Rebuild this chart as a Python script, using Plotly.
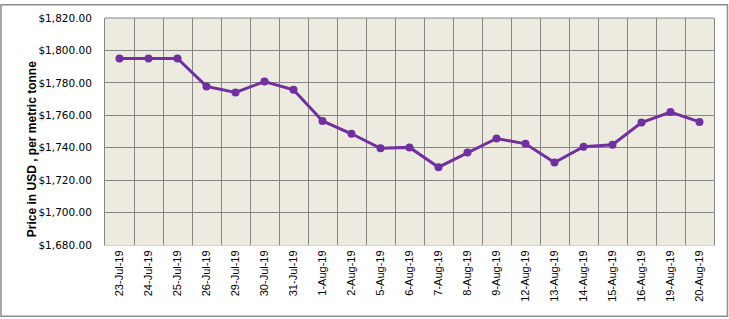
import plotly.graph_objects as go

dates = ["23-Jul-19", "24-Jul-19", "25-Jul-19", "26-Jul-19", "29-Jul-19", "30-Jul-19", "31-Jul-19",
         "1-Aug-19", "2-Aug-19", "5-Aug-19", "6-Aug-19", "7-Aug-19", "8-Aug-19", "9-Aug-19",
         "12-Aug-19", "13-Aug-19", "14-Aug-19", "15-Aug-19", "16-Aug-19", "19-Aug-19", "20-Aug-19"]
prices = [1795.0, 1795.0, 1795.0, 1777.8, 1774.1, 1780.8, 1775.7,
          1756.5, 1748.6, 1739.6, 1740.2, 1728.0, 1737.0, 1745.7,
          1742.4, 1730.9, 1740.6, 1741.8, 1755.5, 1762.0, 1755.9]
y_title = "Price in USD , per metric tonne"

W, H = 729, 319
L, R, T, B = 105, 15, 14, 74
pw, ph = W - L - R, H - T - B

fig = go.Figure(go.Scatter(
    x=dates, y=prices, mode="lines+markers",
    line=dict(color="#7030A0", width=3),
    marker=dict(color="#7030A0", size=8),
))

fig.update_layout(
    width=W, height=H,
    margin=dict(l=L, r=R, t=T, b=B),
    paper_bgcolor="white",
    plot_bgcolor="#EDEAE0",
    showlegend=False,
    xaxis=dict(
        type="category", tickson="boundaries", showgrid=True, gridcolor="#868686", gridwidth=1,
        tickangle=-90, tickfont=dict(family="Liberation Sans", size=11, color="#000"),
        showline=True, linecolor="#C5D5E8", linewidth=1,
        ticks="outside", ticklen=6, tickcolor="rgba(0,0,0,0)",
        range=[-0.5, len(dates) - 0.5],
    ),
    yaxis=dict(
        range=[1680, 1820], dtick=20, tickformat="$,.2f",
        showgrid=True, gridcolor="#868686", gridwidth=1,
        tickfont=dict(family="DejaVu Sans", size=10.5, color="#000"),
        showline=True, linecolor="#868686", mirror=True, zeroline=False,
        ticks="outside", ticklen=10, tickcolor="rgba(0,0,0,0)",
    ),
    font=dict(family="DejaVu Sans"),
)

# plot top border
fig.add_shape(type="line", xref="paper", yref="paper", x0=0, x1=1, y0=1, y1=1,
              line=dict(color="#868686", width=1))
# chart outer border
fig.add_shape(type="rect", xref="paper", yref="paper",
              x0=(1 - L) / pw, x1=(727.5 - L) / pw,
              y0=(T + ph - 317.5) / ph, y1=(T + ph - 0.5) / ph,
              line=dict(color="#8C8C8C", width=1.5))

fig.add_annotation(text="<b>" + y_title + "</b>", xref="paper", yref="paper",
                   x=(23 - L) / pw, y=(T + ph - 147.5) / ph, textangle=-90,
                   showarrow=False, font=dict(family="Liberation Sans", size=12, color="#000"))

fig.write_html("out.html")
